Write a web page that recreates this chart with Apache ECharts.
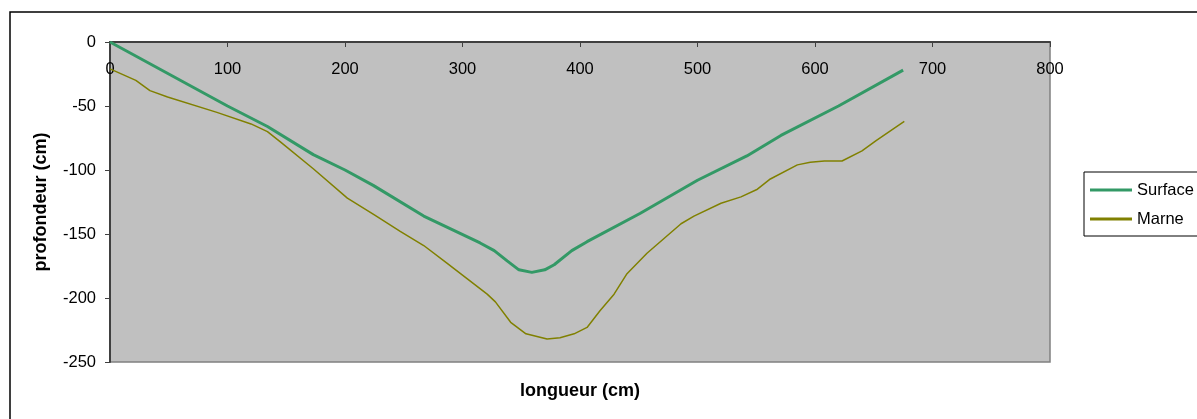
<!DOCTYPE html>
<html>
<head>
<meta charset="utf-8">
<script src="https://cdn.jsdelivr.net/npm/echarts@6/dist/echarts.min.js"></script>
<style>
html,body{margin:0;padding:0;background:#fff;}
#chart{width:1197px;height:419px;}
</style>
</head>
<body>
<div id="chart"></div>
<script>
// Data (cm)
var surfaceX = [0, 50, 100, 134, 173, 200, 224, 267, 315, 327, 338, 348, 359, 370, 378, 393, 406, 451, 500, 542, 571, 620, 675];
var surfaceY = [0, -25, -50, -66, -88, -100, -112, -136, -157, -163, -171, -178, -180, -178, -174, -163, -156, -134, -108, -89, -73, -50, -22];
var marneX = [0, 22, 34, 49, 91, 120, 134, 145, 173, 202, 225, 247, 267, 287, 321, 328, 341, 354, 372, 383, 395, 406, 417, 429, 440, 457, 486, 497, 520, 537, 551, 562, 585, 596, 608, 623, 640, 652, 676];
var marneY = [-21, -30, -38, -43, -55, -64, -70, -78, -99, -122, -135, -148, -159, -173, -197, -203, -219, -228, -232, -231, -228, -223, -210, -197, -181, -165, -142, -136, -126, -121, -115, -107, -96, -94, -93, -93, -85, -77, -62];
var seriesNames = ['Surface', 'Marne'];
var xTitle = 'longueur (cm)';
var yTitle = 'profondeur (cm)';

function zip(a, b) { return a.map(function (v, i) { return [v, b[i]]; }); }

var FONT = '"Liberation Sans", Arial, sans-serif';
var chart = echarts.init(document.getElementById('chart'));
chart.setOption({
  animation: false,
  backgroundColor: '#fff',
  grid: {
    left: 110, top: 42, right: 147, bottom: 57,
    show: true, backgroundColor: '#C0C0C0', borderColor: '#808080', borderWidth: 1.5
  },
  graphic: [{
    type: 'rect', silent: true,
    shape: { x: 10, y: 12, width: 1300, height: 500 },
    style: { fill: 'none', stroke: '#000', lineWidth: 1.5 }
  }],
  legend: {
    orient: 'vertical', left: 1084, top: 172,
    padding: [9, 30, 8, 6],
    itemWidth: 42, itemHeight: 3, itemGap: 11,
    borderColor: '#000', borderWidth: 1, backgroundColor: '#fff',
    textStyle: { fontFamily: FONT, fontSize: 16.5, color: '#000', lineHeight: 18 },
    data: [{ name: seriesNames[0], icon: 'rect' }, { name: seriesNames[1], icon: 'rect' }]
  },
  xAxis: [{
    type: 'value', position: 'top', min: 0, max: 800, interval: 100,
    axisLine: { show: true, onZero: false, lineStyle: { color: '#404040', width: 2 } },
    axisTick: { show: true, inside: true, length: 5, lineStyle: { color: '#404040' } },
    axisLabel: { inside: true, margin: 19, fontFamily: FONT, fontSize: 16.5, color: '#000' },
    splitLine: { show: false }
  }, {
    type: 'value', position: 'bottom', min: 0, max: 800,
    axisLine: { show: false }, axisTick: { show: false }, axisLabel: { show: false },
    splitLine: { show: false },
    name: xTitle, nameLocation: 'middle', nameGap: 20,
    nameTextStyle: { fontFamily: FONT, fontSize: 18, fontWeight: 'bold', color: '#000' }
  }],
  yAxis: {
    type: 'value', min: -250, max: 0, interval: 50,
    axisLine: { show: true, onZero: false, lineStyle: { color: '#404040', width: 2 } },
    axisTick: { show: true, length: 5, lineStyle: { color: '#404040' } },
    axisLabel: { margin: 14, fontFamily: FONT, fontSize: 16.5, color: '#000' },
    splitLine: { show: false },
    name: yTitle, nameLocation: 'middle', nameGap: 60,
    nameTextStyle: { fontFamily: FONT, fontSize: 18, fontWeight: 'bold', color: '#000' }
  },
  series: [{
    name: seriesNames[0], type: 'line', xAxisIndex: 0,
    data: zip(surfaceX, surfaceY), symbol: 'none',
    lineStyle: { color: '#339966', width: 3 }, itemStyle: { color: '#339966' }
  }, {
    name: seriesNames[1], type: 'line', xAxisIndex: 0,
    data: zip(marneX, marneY), symbol: 'none',
    lineStyle: { color: '#808000', width: 1.5 }, itemStyle: { color: '#808000' }
  }]
});
</script>
</body>
</html>
